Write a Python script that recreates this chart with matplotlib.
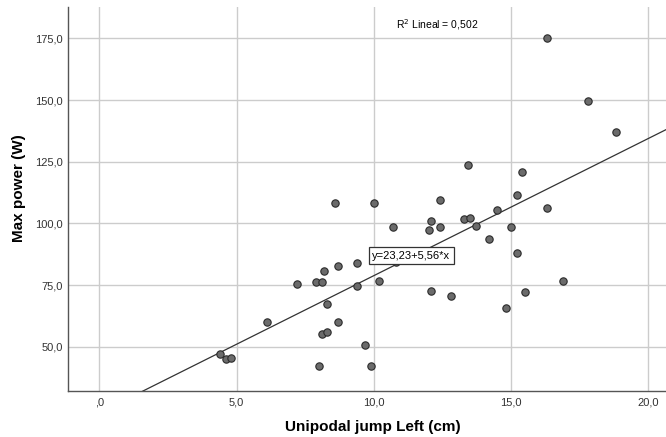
import matplotlib
matplotlib.use("Agg")
import matplotlib.pyplot as plt
import numpy as np

jump_left = [16.31, 17.81, 18.81, 13.41, 15.40, 15.21, 12.40, 8.60, 10.00, 14.50,
             16.31, 13.30, 13.50, 12.09, 13.71, 10.70, 12.00, 12.40, 14.99, 14.20,
             15.21, 9.40, 8.70, 8.20, 10.19, 16.90, 7.89, 8.11, 7.21, 9.40,
             12.09, 15.50, 12.81, 8.29, 14.81, 6.09, 8.70, 8.11, 8.29, 9.69,
             4.40, 4.60, 4.81, 8.00, 9.89, 10.80]
max_power = [175.1, 149.5, 137.1, 123.7, 120.7, 111.4, 109.4, 108.3, 108.3, 105.5,
             106.4, 101.6, 102.1, 100.8, 98.9, 98.6, 97.3, 98.6, 98.6, 93.5,
             88.0, 83.9, 82.8, 80.9, 76.8, 76.5, 76.2, 76.3, 75.4, 74.5,
             72.7, 72.3, 70.4, 67.3, 65.8, 60.2, 60.2, 55.3, 55.8, 50.7,
             46.9, 45.0, 45.3, 42.3, 42.3, 84.5]
intercept = 23.23
slope = 5.56
r2_text = "R$^2$ Lineal = 0,502"
eq_text = "y=23,23+5,56*x"
x_ticks = [0, 5, 10, 15, 20]
x_ticklabels = [",0", "5,0", "10,0", "15,0", "20,0"]
y_ticks = [50, 75, 100, 125, 150, 175]
y_ticklabels = ["50,0", "75,0", "100,0", "125,0", "150,0", "175,0"]

plt.rcParams['font.family'] = ['Liberation Sans Narrow', 'Liberation Sans', 'DejaVu Sans']

fig = plt.figure(figsize=(6.66, 4.37), dpi=100)
ax = fig.add_axes([0.1026, 0.106, 0.8974, 0.878])
xmin, xmax = -1.13, 20.64
ymin, ymax = 32.2, 187.7
ax.set_xlim(xmin, xmax)
ax.set_ylim(ymin, ymax)

ax.set_xticks(x_ticks)
ax.set_xticklabels(x_ticklabels)
ax.set_yticks(y_ticks)
ax.set_yticklabels(y_ticklabels)
ax.tick_params(length=0, labelsize=8, colors='#333333')
ax.tick_params(axis='x', pad=5)
ax.tick_params(axis='y', pad=4)
ax.grid(True, color='#cccccc', linewidth=1.0)
ax.set_axisbelow(True)
for s in ['top', 'right']:
    ax.spines[s].set_visible(False)
for s in ['left', 'bottom']:
    ax.spines[s].set_color('#555555')
    ax.spines[s].set_linewidth(1.0)

xx = np.array([xmin, xmax])
ax.plot(xx, intercept + slope * xx, color='#333333', linewidth=0.9, zorder=2)

ax.scatter(jump_left, max_power, s=28, facecolor='#6b6b6b', edgecolor='#2a2a2a',
           linewidth=0.8, zorder=3)

ax.text(11.36, 86.9, eq_text, fontsize=8, ha='center', va='center', zorder=5,
        bbox=dict(boxstyle='square,pad=0.3', facecolor='white', edgecolor='#333333', linewidth=0.9))
ax.text(12.32, 180.6, r2_text, fontsize=7.5, ha='center', va='center',
        family=['Liberation Sans', 'DejaVu Sans'])

ax.set_xlabel("Unipodal jump Left (cm)", fontsize=11, fontweight='bold',
              family=['Liberation Sans', 'DejaVu Sans'], va='center')
ax.set_ylabel("Max power (W)", fontsize=11, fontweight='bold',
              family=['Liberation Sans', 'DejaVu Sans'], va='center')
ax.xaxis.set_label_coords(0.509, -0.095)
ax.yaxis.set_label_coords(-0.083, 0.528)

fig.savefig("out.png", dpi=100)
